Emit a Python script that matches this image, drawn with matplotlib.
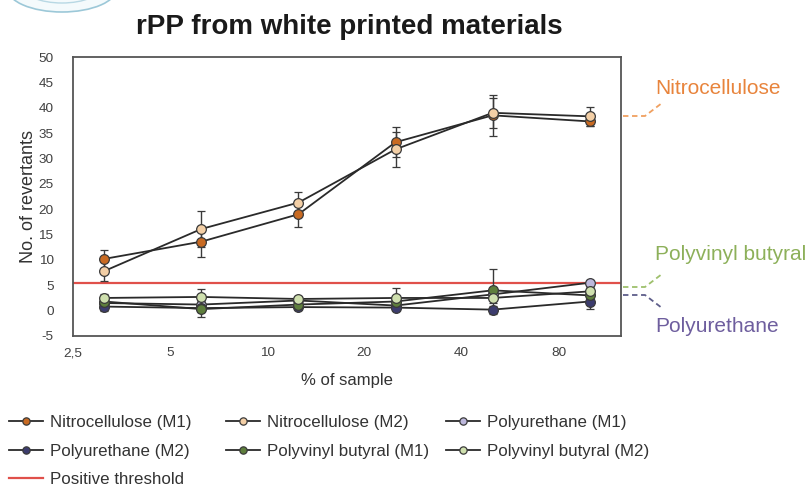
import matplotlib
matplotlib.use("Agg")
import matplotlib.pyplot as plt
from matplotlib.lines import Line2D
from matplotlib.patches import Ellipse
from matplotlib.ticker import FixedLocator, FixedFormatter, NullLocator

plt.rcParams['font.family'] = ['Liberation Sans', 'DejaVu Sans']
plt.rcParams['axes.unicode_minus'] = False

# ---- data ----
dose = [3.125, 6.25, 12.5, 25, 50, 100]
nitro_m1 = [10.2, 13.6, 19.0, 33.2, 38.5, 37.3]
nitro_m1_err = [1.8, 3.0, 2.5, 3.0, 4.0, 1.0]
nitro_m2 = [7.8, 16.1, 21.3, 31.8, 39.0, 38.3]
nitro_m2_err = [2.0, 3.6, 2.1, 3.5, 3.0, 1.9]
pu_m1 = [1.5, 1.2, 2.0, 1.0, 3.2, 5.5]
pu_m1_err = [0.8, 0.8, 0.5, 0.8, 1.0, 0.5]
pu_m2 = [0.8, 0.5, 0.7, 0.6, 0.2, 1.8]
pu_m2_err = [0.8, 0.8, 0.5, 0.5, 0.8, 1.5]
pvb_m1 = [1.8, 0.3, 1.2, 1.8, 4.0, 3.0]
pvb_m1_err = [1.0, 1.6, 0.5, 1.0, 4.2, 0.8]
pvb_m2 = [2.5, 2.7, 2.3, 2.5, 2.5, 3.8]
pvb_m2_err = [0.8, 1.6, 0.5, 2.0, 1.0, 0.8]
threshold = 5.5

x_ticks = [2.5, 5, 10, 20, 40, 80]
x_ticklabels = ["2,5", "5", "10", "20", "40", "80"]
y_ticks = list(range(-5, 51, 5))

series = [
    ("Nitrocellulose (M1)", nitro_m1, nitro_m1_err, "#C86A22"),
    ("Nitrocellulose (M2)", nitro_m2, nitro_m2_err, "#F3CFA6"),
    ("Polyurethane (M1)", pu_m1, pu_m1_err, "#BDB8DC"),
    ("Polyurethane (M2)", pu_m2, pu_m2_err, "#3C3C6E"),
    ("Polyvinyl butyral (M1)", pvb_m1, pvb_m1_err, "#5E7E3C"),
    ("Polyvinyl butyral (M2)", pvb_m2, pvb_m2_err, "#CFE0AE"),
]

W, H = 806, 487
fig = plt.figure(figsize=(W / 100, H / 100), dpi=100)

def fx(px):
    return px / W

def fy(py):
    return 1 - py / H

ax = fig.add_axes([fx(73), fy(336), fx(621) - fx(73), fy(57) - fy(336)])
ax.set_xscale('log')
ax.set_xlim(2.5, 125)
ax.set_ylim(-5, 50)

thr = ax.axhline(threshold, color="#E0504A", lw=1.6, zorder=1, label="Positive threshold")

handles = {}
for name, vals, errs, col in series:
    cont = ax.errorbar(dose, vals, yerr=errs, fmt='-o', color="#2A2A2A", lw=1.3,
                       ecolor="#3A3A3A", elinewidth=1.0, capsize=3, capthick=1.0,
                       marker='o', markersize=7, markerfacecolor=col,
                       markeredgecolor="#3A3A3A", markeredgewidth=0.9, zorder=3,
                       label=name)
    handles[name] = cont[0]

ax.xaxis.set_major_locator(FixedLocator(x_ticks))
ax.xaxis.set_major_formatter(FixedFormatter(x_ticklabels))
ax.xaxis.set_minor_locator(NullLocator())
ax.set_yticks(y_ticks)
ax.tick_params(axis='both', length=0, labelsize=9.7, labelcolor="#404040")
ax.tick_params(axis='x', pad=8)
ax.tick_params(axis='y', pad=14)
for sp in ax.spines.values():
    sp.set_color("#555555")
    sp.set_linewidth(1.3)

ax.set_xlabel("% of sample", fontsize=12, color="#333333", labelpad=10)
ax.set_ylabel("No. of revertants", fontsize=13, color="#333333", labelpad=1)

fig.text(fx(349), fy(27), "rPP from white printed materials", ha='center', va='center',
         fontsize=20, fontweight='bold', color="#1A1A1A")

# right-side labels with dashed connectors
fig.text(fx(655), fy(89), "Nitrocellulose", color="#E8843C", fontsize=15, va='center', ha='left')
fig.text(fx(655), fy(255), "Polyvinyl butyral", color="#8DB05A", fontsize=15, va='center', ha='left')
fig.text(fx(655), fy(327), "Polyurethane", color="#6E5E9E", fontsize=15, va='center', ha='left')
for pts, col in [([(623, 116), (645, 116), (662, 103)], "#F0A060"),
                 ([(623, 287), (645, 287), (662, 274)], "#9EC06C"),
                 ([(623, 295), (645, 295), (662, 308)], "#5E5E8A")]:
    xs = [fx(p[0]) for p in pts]
    ys = [fy(p[1]) for p in pts]
    fig.add_artist(Line2D(xs, ys, transform=fig.transFigure, color=col, lw=1.3,
                          linestyle=(0, (3, 2))))

# partial logo at top-left
fig.add_artist(Ellipse((fx(62), fy(-12)), fx(110), 48 / H, transform=fig.transFigure,
                       facecolor="#F4FAFC", edgecolor="#9CC8D8", lw=1.2))
fig.add_artist(Ellipse((fx(62), fy(-14)), fx(80), 34 / H, transform=fig.transFigure,
                       facecolor="none", edgecolor="#B8D8E4", lw=1.0))

# legend: three manually placed columns
col_items = [
    (["Nitrocellulose (M1)", "Polyurethane (M2)", "Positive threshold"], 9),
    (["Nitrocellulose (M2)", "Polyvinyl butyral (M1)"], 226),
    (["Polyurethane (M1)", "Polyvinyl butyral (M2)"], 446),
]
for names, xpx in col_items:
    hs = [thr if n == "Positive threshold" else handles[n] for n in names]
    leg = fig.legend(hs, names, loc='upper left', bbox_to_anchor=(fx(xpx), fy(415)),
                     frameon=False, fontsize=12.2, handlelength=2.0, handletextpad=0.42,
                     labelspacing=0.8, borderpad=0, borderaxespad=0, markerscale=0.75)
    for t in leg.get_texts():
        t.set_color("#333333")

fig.savefig("out.png", dpi=100)
